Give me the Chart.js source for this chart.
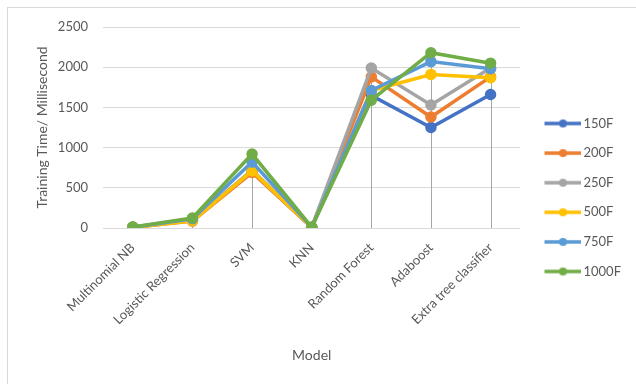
<!DOCTYPE html>
<html lang="en">
<head>
    <meta charset="UTF-8">
    <title>Training Time by Model</title>
    <script src="https://cdn.jsdelivr.net/npm/chart.js"></script>
    <style>
        body {
            margin: 0;
            padding: 0;
            background-color: #fff;
        }

        .frame {
            position: absolute;
            left: 7px;
            top: 7px;
            width: 640px;
            height: 390px;
            border: 1px solid #d9d9d9;
        }

        .wrap {
            position: absolute;
            left: 0;
            top: 0;
            width: 636px;
            height: 384px;
        }
    </style>
</head>
<body>
    <div class="frame"></div>
    <div class="wrap">
        <canvas id="timeChart"></canvas>
    </div>

    <script>
        const models = ['Multinomial NB', 'Logistic Regression', 'SVM', 'KNN', 'Random Forest', 'Adaboost', 'Extra tree classifier'];
        const seriesNames = ['150F', '200F', '250F', '500F', '750F', '1000F'];
        const f150 = [10, 100, 700, 8, 1650, 1250, 1660];
        const f200 = [8, 85, 690, 8, 1880, 1380, 1880];
        const f250 = [10, 95, 720, 10, 1990, 1530, 1990];
        const f500 = [8, 90, 710, 8, 1710, 1910, 1870];
        const f750 = [10, 115, 820, 10, 1710, 2070, 1980];
        const f1000 = [12, 125, 920, 10, 1590, 2180, 2050];
        const yTicks = [0, 500, 1000, 1500, 2000, 2500];

        const colors = ['#4472C4', '#ED7D31', '#A5A5A5', '#FFC000', '#5B9BD5', '#70AD47'];
        const allSeries = [f150, f200, f250, f500, f750, f1000];

        // legend swatch: short line with a round marker in the middle
        // (left part of the canvas is left empty to push the swatch away from the plot)
        function legendSwatch(color) {
            const c = document.createElement('canvas');
            c.width = 49;
            c.height = 10;
            const g = c.getContext('2d');
            g.strokeStyle = color;
            g.lineWidth = 3.5;
            g.beginPath();
            g.moveTo(12, 5);
            g.lineTo(49, 5);
            g.stroke();
            g.fillStyle = color;
            g.beginPath();
            g.arc(30.5, 5, 4, 0, Math.PI * 2);
            g.fill();
            return c;
        }

        // vertical drop lines from the highest point of each category down to zero
        const dropLines = {
            id: 'dropLines',
            beforeDatasetsDraw(chart) {
                const ctx = chart.ctx;
                const x = chart.scales.x;
                const y = chart.scales.y;
                ctx.save();
                ctx.strokeStyle = '#a6a6a6';
                ctx.lineWidth = 1;
                models.forEach((m, i) => {
                    const top = Math.max(...allSeries.map(s => s[i]));
                    const px = Math.round(x.getPixelForValue(i)) + 0.5;
                    ctx.beginPath();
                    ctx.moveTo(px, y.getPixelForValue(top));
                    ctx.lineTo(px, y.getPixelForValue(0));
                    ctx.stroke();
                });
                ctx.restore();
            }
        };

        const datasets = seriesNames.map((name, i) => ({
            label: name,
            data: allSeries[i],
            borderColor: colors[i],
            backgroundColor: colors[i],
            borderWidth: 3.5,
            pointRadius: 4,
            pointHoverRadius: 4,
            pointStyle: 'circle',
            tension: 0,
            order: seriesNames.length - i
        }));

        new Chart(document.getElementById('timeChart'), {
            type: 'line',
            data: { labels: models, datasets: datasets },
            plugins: [dropLines],
            options: {
                responsive: true,
                maintainAspectRatio: false,
                animation: false,
                layout: { padding: { left: 30, top: 27, right: 5, bottom: 16 } },
                plugins: {
                    tooltip: { enabled: false },
                    legend: {
                        position: 'right',
                        sort: (a, b) => a.datasetIndex - b.datasetIndex,
                        labels: {
                            usePointStyle: true,
                            pointStyleWidth: 40,
                            padding: 16.6,
                            color: '#595959',
                            font: { family: 'Lato', size: 13 },
                            generateLabels(chart) {
                                return chart.data.datasets.map((ds, i) => ({
                                    text: ds.label,
                                    fontColor: '#595959',
                                    pointStyle: legendSwatch(colors[i]),
                                    strokeStyle: colors[i],
                                    fillStyle: colors[i],
                                    lineWidth: 0,
                                    hidden: false,
                                    datasetIndex: i
                                }));
                            }
                        }
                    }
                },
                scales: {
                    x: {
                        offset: true,
                        grid: { display: false },
                        border: { display: false },
                        ticks: {
                            color: '#595959',
                            font: { family: 'Lato', size: 13 },
                            minRotation: 45,
                            maxRotation: 45,
                            padding: 4
                        },
                        title: {
                            display: true,
                            text: 'Model',
                            color: '#595959',
                            font: { family: 'Lato', size: 14 }
                        },
                        afterFit(scale) { scale.height = 140; }
                    },
                    y: {
                        min: 0,
                        max: 2500,
                        afterBuildTicks(scale) { scale.ticks = yTicks.map(v => ({ value: v })); },
                        grid: { color: '#d9d9d9', drawTicks: false },
                        border: { display: false },
                        ticks: {
                            color: '#595959',
                            font: { family: 'Lato', size: 13 },
                            padding: 15,
                            callback: v => String(v)
                        },
                        title: {
                            display: true,
                            text: 'Training Time/ Millisecond',
                            color: '#595959',
                            font: { family: 'Lato', size: 14 }
                        },
                        afterFit(scale) { scale.width = 73; }
                    }
                }
            }
        });
    </script>
</body>
</html>
